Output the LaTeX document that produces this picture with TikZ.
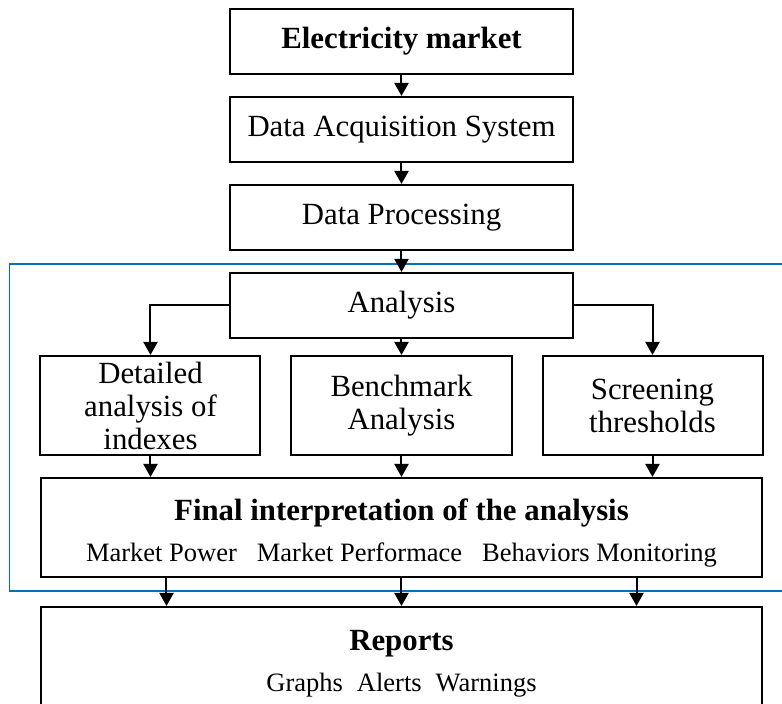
\documentclass[tikz,border=0pt]{standalone}
\usepackage{fontspec}
\setmainfont{Liberation Serif}
\usetikzlibrary{shapes, arrows.meta, positioning, calc}
\definecolor{framecolor}{RGB}{0,112,192}

\begin{document}
\begin{tikzpicture}[
    box/.style={rectangle, draw, line width=1pt, minimum width=171.5pt, minimum height=32.5pt, inner sep=0pt, align=center, font=\fontsize{15.4}{16.5}\selectfont},
    subbox/.style={box, minimum width=110pt, minimum height=49.5pt},
    widebox/.style={box, minimum width=360.5pt, minimum height=49.5pt},
    flow/.style={-{Triangle[width=7pt, length=6.5pt]}, line width=1pt},
    frame/.style={draw=framecolor, line width=0.75pt},
    node distance=10.5pt
]
\useasboundingbox (-200.75pt,20.75pt) rectangle (190.25pt,-331.25pt);

% 定义节点
\node[box] (market) at (0,0) {\textbf{Electricity market}};
\node[box, below=of market] (acquisition) {Data Acquisition System};
\node[box, below=of acquisition] (processing) {Data Processing};
\node[box, below=of processing] (analysis) {Analysis};
\node[subbox, below=8pt of analysis] (benchmark) {Benchmark\\Analysis};
\node[subbox, left=14.5pt of benchmark] (detailed) {Detailed\\analysis of\\indexes};
\node[subbox, right=14.5pt of benchmark] (screening) {Screening\\thresholds};
\node[widebox, below=of benchmark] (final) {\rule{0pt}{16.5pt}\textbf{Final interpretation of the analysis}\\[4pt]{\fontsize{13.25}{16}\selectfont Market Power\hspace{10pt}Market Performace\hspace{10pt}Behaviors Monitoring}};
\node[widebox, minimum height=57pt, below=14pt of final] (reports) {\textbf{Reports}\\[4pt]{\fontsize{13.25}{16}\selectfont Graphs\hspace{7pt}Alerts\hspace{7pt}Warnings}};

% 分析部分的边框
\draw[frame] ($(detailed.west |- analysis.north)+(-15pt,4pt)$) rectangle ($(screening.east |- final.south)+(30pt,-6.5pt)$);

% 绘制箭头
\draw[flow] (market) -- (acquisition);
\draw[flow] (acquisition) -- (processing);
\draw[flow] (processing) -- (analysis);
\draw[flow] (analysis) -- (benchmark);
\draw[flow] (analysis.west) -| (detailed.north);
\draw[flow] (analysis.east) -| (screening.north);
\foreach \n in {detailed, benchmark, screening}
    \draw[flow] (\n.south) -- (\n.south |- final.north);
\foreach \x in {-117.5pt, 0pt, 117.5pt}
    \draw[flow] ([xshift=\x]final.south) -- ([xshift=\x]reports.north);

\end{tikzpicture}
\end{document}
